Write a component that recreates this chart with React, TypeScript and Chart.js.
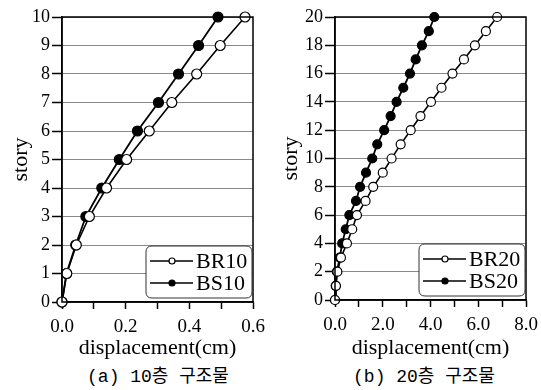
import React, { useEffect, useRef } from "react";
import { Chart, registerables } from "chart.js";

Chart.register(...registerables);

const storiesA = [0, 1, 2, 3, 4, 5, 6, 7, 8, 9, 10];
const br10 = [0, 0.015, 0.045, 0.086, 0.14, 0.203, 0.274, 0.345, 0.423, 0.497, 0.575];
const bs10 = [0, 0.014, 0.043, 0.075, 0.125, 0.18, 0.237, 0.303, 0.366, 0.429, 0.49];

const storiesB = [0, 1, 2, 3, 4, 5, 6, 7, 8, 9, 10, 11, 12, 13, 14, 15, 16, 17, 18, 19, 20];
const br20 = [0, 0.04, 0.1, 0.25, 0.5, 0.72, 0.92, 1.28, 1.6, 2.0, 2.37, 2.75, 3.17, 3.58, 4.02, 4.46, 4.92, 5.4, 5.86, 6.32, 6.79];
const bs20 = [0, 0.03, 0.08, 0.2, 0.3, 0.45, 0.6, 0.88, 1.05, 1.3, 1.56, 1.77, 2.06, 2.33, 2.58, 2.86, 3.14, 3.38, 3.64, 3.93, 4.16];

const labelsA = ["BR10", "BS10"];
const labelsB = ["BR20", "BS20"];
const captionA = "(a) 10층 구조물";
const captionB = "(b) 20층 구조물";

const SERIF = "'Liberation Serif', 'DejaVu Serif', serif";

const frameLegend = {
  id: "frameLegend",
  afterDraw(chart: any) {
    const { ctx, chartArea } = chart;
    const a = chartArea;
    ctx.save();
    ctx.strokeStyle = "#000";
    ctx.lineWidth = 1.5;
    ctx.strokeRect(a.left, a.top, a.right - a.left, a.bottom - a.top);
    const w = 106;
    const h = 52;
    const x0 = a.right - w - 1;
    const y0 = a.bottom - h - 4;
    const r = 6;
    ctx.fillStyle = "#fff";
    ctx.strokeStyle = "#333";
    ctx.lineWidth = 1;
    ctx.beginPath();
    ctx.moveTo(x0 + r, y0);
    ctx.lineTo(x0 + w - r, y0);
    ctx.quadraticCurveTo(x0 + w, y0, x0 + w, y0 + r);
    ctx.lineTo(x0 + w, y0 + h - r);
    ctx.quadraticCurveTo(x0 + w, y0 + h, x0 + w - r, y0 + h);
    ctx.lineTo(x0 + r, y0 + h);
    ctx.quadraticCurveTo(x0, y0 + h, x0, y0 + h - r);
    ctx.lineTo(x0, y0 + r);
    ctx.quadraticCurveTo(x0, y0, x0 + r, y0);
    ctx.closePath();
    ctx.fill();
    ctx.stroke();
    chart.data.datasets.forEach((ds: any, i: number) => {
      const cy = y0 + 15 + i * 22;
      ctx.strokeStyle = "#000";
      ctx.lineWidth = 1.5;
      ctx.beginPath();
      ctx.moveTo(x0 + 4, cy);
      ctx.lineTo(x0 + 47, cy);
      ctx.stroke();
      ctx.beginPath();
      ctx.arc(x0 + 26, cy, 3, 0, Math.PI * 2);
      ctx.fillStyle = ds.pointBackgroundColor;
      ctx.fill();
      ctx.lineWidth = 1.2;
      ctx.stroke();
      ctx.fillStyle = "#000";
      ctx.font = `22px ${SERIF}`;
      ctx.textBaseline = "middle";
      ctx.textAlign = "left";
      ctx.fillText(ds.label, x0 + 50, cy + 1);
    });
    ctx.restore();
  },
};

type PanelProps = {
  stories: number[];
  s1: number[];
  s2: number[];
  names: string[];
  xMax: number;
  xStep: number;
  xLabelEvery: number;
  yMax: number;
  yStep: number;
  yAxisWidth: number;
  xAxisHeight: number;
  padRight: number;
  pointR: number;
};

function Panel(p: PanelProps) {
  const ref = useRef<HTMLCanvasElement>(null);
  useEffect(() => {
    if (!ref.current) return;
    const mk = (vals: number[]) => vals.map((v, i) => ({ x: v, y: p.stories[i] }));
    const chart = new Chart(ref.current, {
      type: "line",
      data: {
        datasets: [
          {
            label: p.names[0],
            data: mk(p.s1),
            borderColor: "#000",
            borderWidth: 1.6,
            pointRadius: p.pointR,
            pointBackgroundColor: "#fff",
            pointBorderColor: "#000",
            pointBorderWidth: 1.2,
            clip: false,
          } as any,
          {
            label: p.names[1],
            data: mk(p.s2),
            borderColor: "#000",
            borderWidth: 1.8,
            pointRadius: p.pointR,
            pointBackgroundColor: "#000",
            pointBorderColor: "#000",
            pointBorderWidth: 1.2,
            clip: false,
          } as any,
        ],
      },
      options: {
        animation: false,
        responsive: true,
        maintainAspectRatio: false,
        layout: { padding: { top: 17, right: p.padRight, left: 8, bottom: 0 } },
        plugins: { legend: { display: false }, tooltip: { enabled: false } },
        scales: {
          x: {
            type: "linear",
            min: 0,
            max: p.xMax,
            afterFit: (s: any) => {
              s.height = p.xAxisHeight;
              s.paddingRight = 0;
              s.paddingLeft = 0;
            },
            ticks: {
              stepSize: p.xStep,
              color: "#000",
              font: { family: SERIF, size: 19 },
              maxRotation: 0,
              autoSkip: false,
              padding: 7,
              callback: (v: any) => {
                const n = Math.round(Number(v) / p.xStep);
                return n % p.xLabelEvery === 0 ? Number(v).toFixed(1) : "";
              },
            },
            grid: { drawOnChartArea: false, drawTicks: true, tickLength: 7, tickColor: "#000", tickWidth: 1.5 },
            border: { color: "#000", width: 1.5 },
            title: {
              display: true,
              text: "displacement(cm)",
              color: "#000",
              font: { family: SERIF, size: 22 },
              padding: { top: 0, bottom: 0 },
            },
          },
          y: {
            type: "linear",
            min: 0,
            max: p.yMax,
            afterFit: (s: any) => {
              s.width = p.yAxisWidth;
              s.paddingTop = 0;
              s.paddingBottom = 0;
            },
            ticks: {
              stepSize: p.yStep,
              color: "#000",
              font: { family: SERIF, size: 18 },
              padding: 2,
            },
            grid: { color: "#8a8a8a", lineWidth: 1, tickLength: 10, tickColor: "#000", tickWidth: 1.5 },
            border: { color: "#000", width: 1.5 },
            title: {
              display: true,
              text: "story",
              color: "#000",
              font: { family: SERIF, size: 22 },
              padding: { top: 0, bottom: 0 },
            },
          },
        },
      },
      plugins: [frameLegend],
    });
    return () => chart.destroy();
  }, []);
  return <canvas ref={ref} />;
}

export default function App() {
  const capStyle: React.CSSProperties = {
    position: "absolute",
    top: 366,
    width: 200,
    textAlign: "center",
    fontFamily: "'Liberation Mono', 'Noto Sans CJK KR', monospace",
    fontSize: 18,
    color: "#000",
    lineHeight: "22px",
    whiteSpace: "nowrap",
  };
  return (
    <div style={{ position: "fixed", left: 0, top: 0, width: 541, height: 390, background: "#fff" }}>
      <div style={{ position: "absolute", left: 0, top: 0, width: 270, height: 361 }}>
        <Panel
          stories={storiesA}
          s1={br10}
          s2={bs10}
          names={labelsA}
          xMax={0.6}
          xStep={0.1}
          xLabelEvery={2}
          yMax={10}
          yStep={1}
          yAxisWidth={54}
          xAxisHeight={59}
          padRight={17}
          pointR={5}
        />
      </div>
      <div style={{ position: "absolute", left: 270, top: 0, width: 271, height: 361 }}>
        <Panel
          stories={storiesB}
          s1={br20}
          s2={bs20}
          names={labelsB}
          xMax={8}
          xStep={1}
          xLabelEvery={2}
          yMax={20}
          yStep={2}
          yAxisWidth={57}
          xAxisHeight={61}
          padRight={15}
          pointR={4.5}
        />
      </div>
      <div style={{ ...capStyle, left: 158 - 100 }}>{captionA}</div>
      <div style={{ ...capStyle, left: 424 - 100 }}>{captionB}</div>
    </div>
  );
}
